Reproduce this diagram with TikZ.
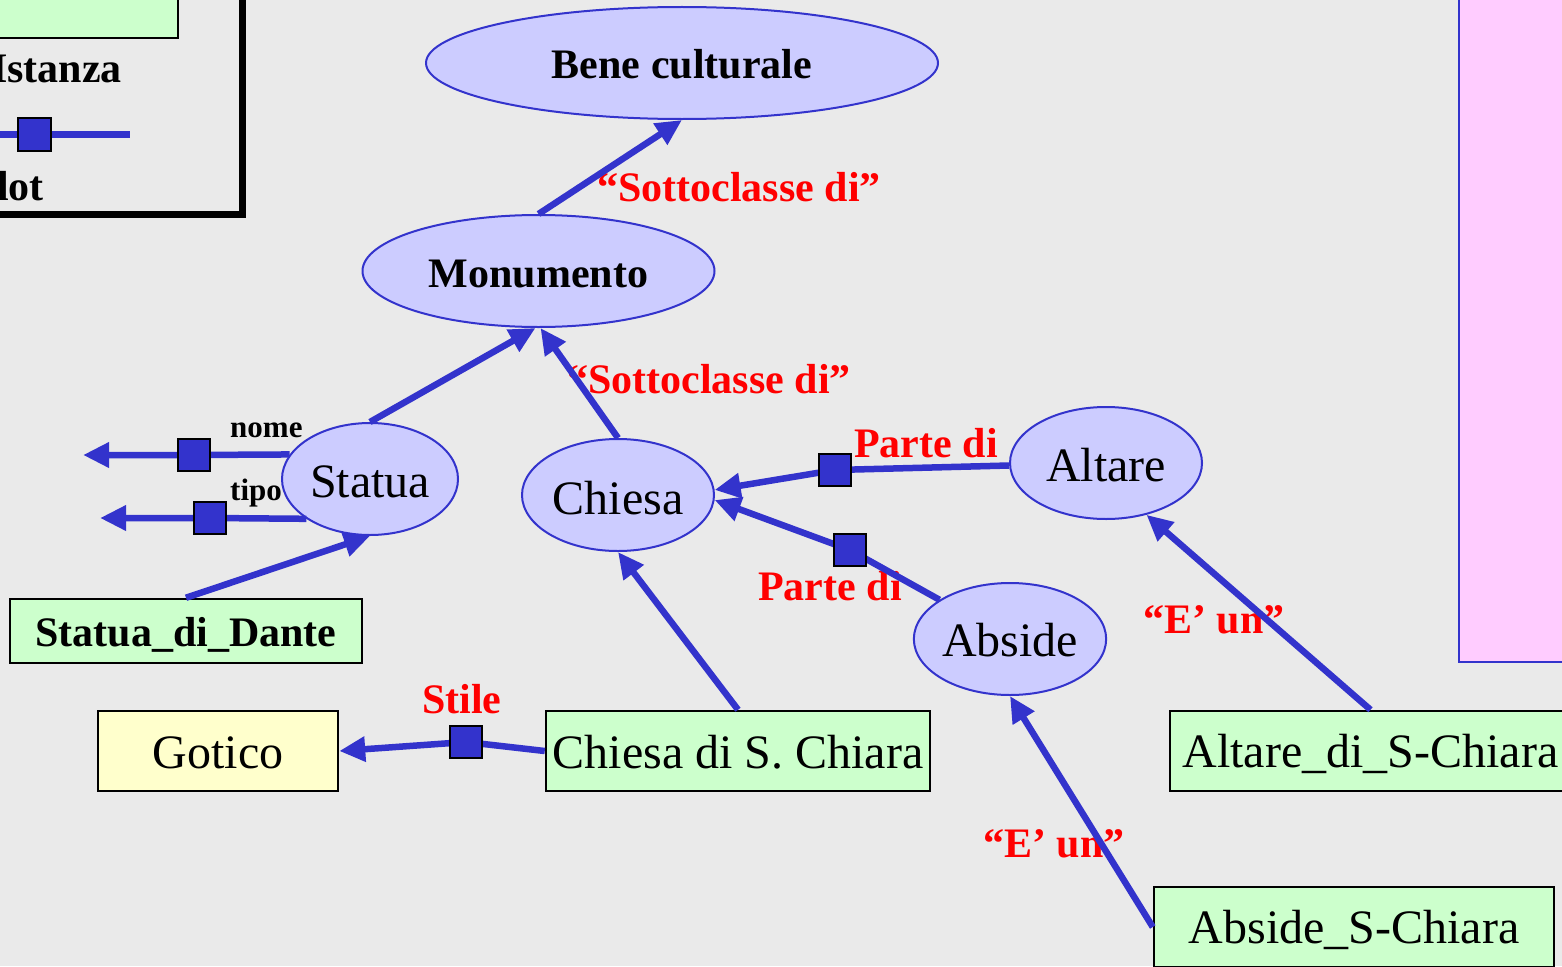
\documentclass[tikz,border=0pt]{standalone}
\usepackage{fontspec}
\setmainfont{Liberation Serif}
\usetikzlibrary{shapes.geometric,arrows.meta}
\definecolor{bgc}{HTML}{EAEAEA}
\definecolor{ebl}{HTML}{3333CC}
\definecolor{efill}{HTML}{CCCCFF}
\definecolor{gfill}{HTML}{CCFFCC}
\definecolor{yfill}{HTML}{FFFFCC}
\definecolor{pfill}{HTML}{FFCCFF}
\definecolor{lred}{HTML}{FF0000}
\begin{document}
\begin{tikzpicture}[x=1pt,y=-1pt,
 bigbf/.style={font=\fontsize{42}{46}\selectfont\bfseries},
 bigrm/.style={font=\fontsize{48}{52}\selectfont},
 cls/.style={ellipse, draw=ebl, line width=2pt, fill=efill, inner sep=0pt, text depth=0pt, minimum height=112pt},
 clsrm/.style={cls, bigrm, text height=36pt},
 clsbf/.style={cls, bigbf, text height=31pt},
 inst/.style={rectangle, draw=black, line width=2.5pt, fill=gfill, inner sep=0pt, text depth=0pt, minimum height=80pt, bigrm, text height=34pt},
 val/.style={inst, fill=yfill},
 lbl/.style={text=lred, font=\fontsize{42}{46}\selectfont\bfseries, inner sep=0pt, anchor=base west},
 slbl/.style={font=\fontsize{31}{34}\selectfont\bfseries, inner sep=0pt, anchor=base west},
 conn/.style={draw=ebl, line width=6.5pt, -{Triangle[length=26pt,width=24pt]}},
 plainline/.style={draw=ebl, line width=7pt},
 slotsq/.style={rectangle, draw=black, line width=2pt, fill=ebl, minimum size=32pt, inner sep=0pt},
]
\useasboundingbox (0,0) rectangle (1562,966);
\clip (0,0) rectangle (1562,966);
\fill[bgc] (0,0) rectangle (1562,966);

% legend
\draw[line width=2.5pt, fill=gfill] (-50,-50) rectangle (178,38);
\draw[line width=7pt] (-50,-50) rectangle (242.5,214);
\node[bigbf, anchor=base east, inner sep=0pt] (legi) at (122,82) {Istanza};
\coordinate (legA) at (-20,134);
\coordinate (legB) at (130,134);
\draw[plainline] (legA) -- (legB);
\node[slotsq, minimum size=33pt] (legsq) at (34,134) {};
\node[bigbf, anchor=base east, inner sep=0pt] (legs) at (44,200) {Slot};

% pink box
\draw[draw=ebl, line width=2pt, fill=pfill] (1459,-10) rectangle (1600,662);

% classes
\node[clsbf, minimum width=512pt] (bene) at (682,63) {Bene culturale};
\node[clsbf, minimum width=352pt, text height=32pt] (mon) at (538.5,271) {Monumento};
\node[clsrm, minimum width=176pt] (statua) at (370,479) {Statua};
\node[clsrm, minimum width=192pt, text height=38pt] (chiesa) at (618,495) {Chiesa};
\node[clsrm, minimum width=192pt] (altare) at (1106,463) {Altare};
\node[clsrm, minimum width=192pt, text height=35pt] (abside) at (1010,639) {Abside};

% instances
\node[inst, bigbf, minimum width=352pt, minimum height=64pt, text height=30pt] (sdd) at (186,631) {Statua\_di\_Dante};
\node[val, minimum width=240pt] (got) at (218,751) {Gotico};
\node[inst, minimum width=384pt] (csc) at (738,751) {Chiesa di S. Chiara};
\node[inst, minimum width=401pt, text height=32pt] (adc) at (1370.5,751) {Altare\_di\_S-Chiara};
\node[inst, minimum width=400pt, text height=32pt] (asc) at (1354,927) {Abside\_S-Chiara};

% labels
\node[lbl] (l1) at (597,201) {“Sottoclasse di”};
\node[lbl] (l2) at (567,393) {“Sottoclasse di”};
\node[lbl] (l3) at (854,457) {Parte di};
\node[lbl] (l4) at (758,600) {Parte di};
\node[lbl] (l5) at (1143,633) {“E’ un”};
\node[lbl] (l6) at (983,857) {“E’ un”};
\node[lbl] (l7) at (422,713) {Stile};
\node[slbl] (l8) at (230,437) {nome};
\node[slbl] (l9) at (230,500) {tipo};

% slot points
\coordinate (q1) at (835,470);
\coordinate (q2) at (850,550);
\coordinate (q3) at (466,742);
\coordinate (q4) at (194,455);
\coordinate (q5) at (210,518);
\coordinate (nomeend) at (83,455);
\coordinate (tipoend) at (100,518);

% connectors
\draw[conn] (mon.north) -- (bene.south);
\draw[conn] (statua.north) -- (mon.267);
\draw[conn] (chiesa.north) -- (mon.272);
\draw[conn] (sdd.north) -- (statua.south);
\draw[conn] (csc.north) -- (chiesa.south);
\draw[conn] (altare) -- (q1) -- (chiesa.3);
\draw[conn] (abside) -- (q2) -- (chiesa.-3);
\draw[conn] (adc.north) -- (altare.-52);
\draw[conn] (asc.west) -- (abside.south);
\draw[conn] (csc.west) -- (q3) -- (got.east);
\draw[conn] (statua.163) -- (q4) -- (nomeend);
\draw[conn] (statua.212) -- (q5) -- (tipoend);

% slot squares
\node[slotsq] (s1) at (q1) {};
\node[slotsq] (s2) at (q2) {};
\node[slotsq] (s3) at (q3) {};
\node[slotsq] (s4) at (q4) {};
\node[slotsq] (s5) at (q5) {};
\end{tikzpicture}
\end{document}
